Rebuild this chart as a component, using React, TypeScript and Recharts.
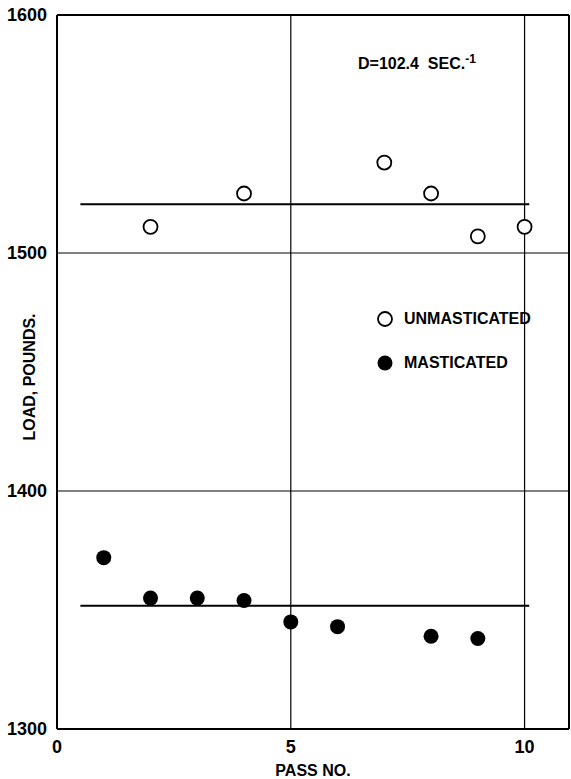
import React from 'react';
import {
  ScatterChart,
  Scatter,
  XAxis,
  YAxis,
  ReferenceLine,
} from 'recharts';

// Pass numbers and measured loads (pounds)
const unmasticatedPass = [2, 4, 7, 8, 9, 10];
const unmasticatedLoad = [1511, 1525, 1538, 1525, 1507, 1511];
const masticatedPass = [1, 2, 3, 4, 5, 6, 8, 9];
const masticatedLoad = [1372, 1355, 1355, 1354, 1345, 1343, 1339, 1338];

// Average lines drawn across the passes
const unmasticatedMean = 1520.5;
const masticatedMean = 1351.8;
const meanSpan = [0.5, 10.1];

const xTicks = [0, 5, 10];
const yTicks = [1300, 1400, 1500, 1600];
const xMax = 10.95;

const FONT = "'Liberation Sans', Arial, sans-serif";

const unmasticated = unmasticatedPass.map((x, i) => ({ x, y: unmasticatedLoad[i] }));
const masticated = masticatedPass.map((x, i) => ({ x, y: masticatedLoad[i] }));

const OpenDot = (props: any) => (
  <circle cx={props.cx} cy={props.cy} r={7} fill="#fff" stroke="#000" strokeWidth={1.8} />
);

const SolidDot = (props: any) => (
  <circle cx={props.cx} cy={props.cy} r={7.5} fill="#000" stroke="none" />
);

const LegendBox = () => (
  <div
    style={{
      position: 'absolute',
      left: 376,
      top: 307,
      fontFamily: FONT,
      fontSize: 16,
      fontWeight: 'bold',
      color: '#000',
    }}
  >
    <div style={{ display: 'flex', alignItems: 'center', height: 24 }}>
      <svg width={18} height={18} style={{ marginRight: 10 }}>
        <circle cx={9} cy={9} r={7} fill="#fff" stroke="#000" strokeWidth={1.8} />
      </svg>
      UNMASTICATED
    </div>
    <div style={{ display: 'flex', alignItems: 'center', height: 24, marginTop: 20 }}>
      <svg width={18} height={18} style={{ marginRight: 10 }}>
        <circle cx={9} cy={9} r={7.5} fill="#000" />
      </svg>
      MASTICATED
    </div>
  </div>
);

export default function App() {
  return (
    <div style={{ position: 'absolute', left: 0, top: 0, width: 571, height: 779, background: '#fff' }}>
      <ScatterChart
        width={571}
        height={779}
        margin={{ top: 15, right: 2, left: 0, bottom: 0 }}
      >
        <XAxis
          type="number"
          dataKey="x"
          domain={[0, xMax]}
          ticks={xTicks}
          tickLine={false}
          tickMargin={5}
          height={50}
          axisLine={{ stroke: '#000', strokeWidth: 2 }}
          tick={{ fill: '#000', fontSize: 18, fontWeight: 'bold', fontFamily: FONT }}
          label={{
            value: 'PASS NO.',
            position: 'insideBottom',
            offset: 3,
            fill: '#000',
            fontSize: 16,
            fontWeight: 'bold',
            fontFamily: FONT,
          }}
        />
        <YAxis
          type="number"
          dataKey="y"
          domain={[1300, 1600]}
          ticks={yTicks}
          tickLine={false}
          tickMargin={4}
          width={57}
          axisLine={{ stroke: '#000', strokeWidth: 2 }}
          tick={{ fill: '#000', fontSize: 18, fontWeight: 'bold', fontFamily: FONT }}
          label={({ viewBox }: any) => {
            const cx = 29;
            const cy = viewBox.y + viewBox.height / 2 + 5;
            return (
              <text
                x={cx}
                y={cy}
                transform={`rotate(-90, ${cx}, ${cy})`}
                textAnchor="middle"
                dominantBaseline="central"
                fill="#000"
                fontSize={16}
                fontWeight="bold"
                fontFamily={FONT}
              >
                LOAD, POUNDS.
              </text>
            );
          }}
        />

        {/* frame and grid */}
        <ReferenceLine y={1600} stroke="#000" strokeWidth={2} />
        <ReferenceLine x={xMax} stroke="#000" strokeWidth={2} />
        <ReferenceLine y={1500} stroke="#000" strokeWidth={1.2} />
        <ReferenceLine y={1400} stroke="#000" strokeWidth={1.2} />
        <ReferenceLine x={5} stroke="#000" strokeWidth={1.2} />
        <ReferenceLine x={10} stroke="#000" strokeWidth={1.2} />

        {/* mean lines */}
        <ReferenceLine
          segment={[
            { x: meanSpan[0], y: unmasticatedMean },
            { x: meanSpan[1], y: unmasticatedMean },
          ]}
          stroke="#000"
          strokeWidth={2}
        />
        <ReferenceLine
          segment={[
            { x: meanSpan[0], y: masticatedMean },
            { x: meanSpan[1], y: masticatedMean },
          ]}
          stroke="#000"
          strokeWidth={2}
        />

        <Scatter data={unmasticated} shape={OpenDot} isAnimationActive={false} />
        <Scatter data={masticated} shape={SolidDot} isAnimationActive={false} />
      </ScatterChart>

      <LegendBox />

      <div
        style={{
          position: 'absolute',
          left: 358,
          top: 52,
          fontFamily: FONT,
          fontSize: 16,
          fontWeight: 'bold',
          color: '#000',
          whiteSpace: 'pre',
        }}
      >
        D=102.4  SEC.<sup style={{ fontSize: 12 }}>-1</sup>
      </div>
    </div>
  );
}
